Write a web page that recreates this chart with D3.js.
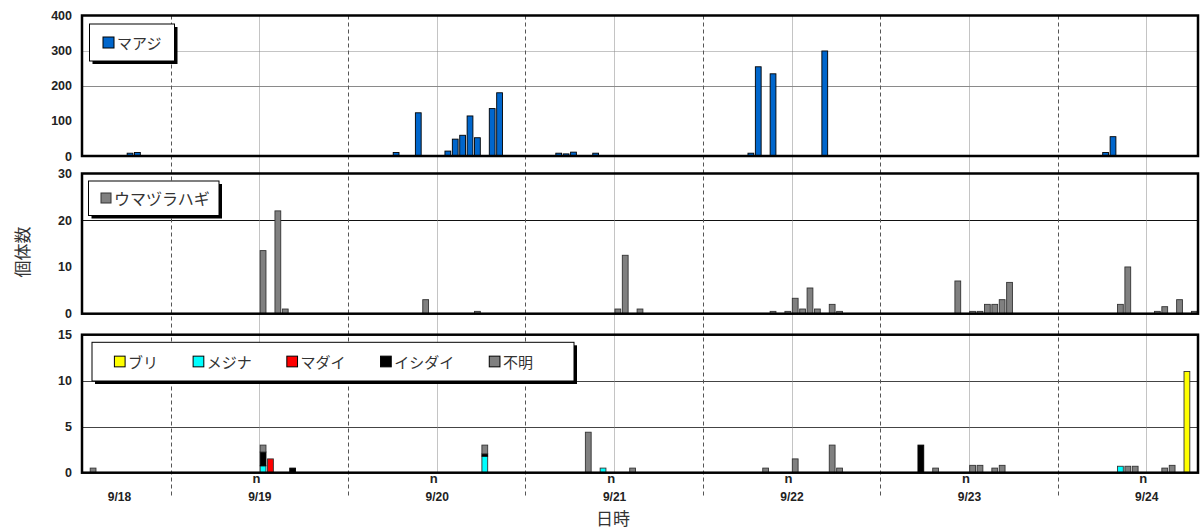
<!DOCTYPE html>
<html><head><meta charset="utf-8">
<script src="https://cdn.jsdelivr.net/npm/d3@7"></script>
<style>body{margin:0;background:#fff}svg{display:block}</style>
</head><body><svg id="c" width="1203" height="529"></svg>
<script>
// ---- data (time "M/D H", value) ----
const majiData = [
  ["9/18 18",8],["9/18 19",10],["9/20 6",10],["9/20 9",123],["9/20 13",14],["9/20 14",48],
  ["9/20 15",59],["9/20 16",114],["9/20 17",52],["9/20 19",135],["9/20 20",180],
  ["9/21 4",8],["9/21 5",6],["9/21 6",11],["9/21 9",8],["9/22 6",8],["9/22 7",254],
  ["9/22 9",234],["9/22 16",299],["9/24 6",10],["9/24 7",55]
];
const umazuraData = [
  ["9/19 12",13.5],["9/19 14",22],["9/19 15",1],["9/20 10",3],["9/20 17",0.5],
  ["9/21 12",1],["9/21 13",12.5],["9/21 15",1],["9/22 9",0.5],["9/22 11",0.5],
  ["9/22 12",3.3],["9/22 13",1],["9/22 14",5.5],["9/22 15",1],["9/22 17",2],["9/22 18",0.5],
  ["9/23 10",7],["9/23 12",0.5],["9/23 13",0.5],["9/23 14",2],["9/23 15",2],["9/23 16",3],
  ["9/23 17",6.7],["9/24 8",2],["9/24 9",10],["9/24 13",0.5],["9/24 14",1.5],
  ["9/24 16",3],["9/24 18",0.5]
];
const buriData = [["9/24 17",11]];
const mejinaData = [["9/19 12",0.75],["9/20 18",1.8],["9/21 10",0.5],["9/24 8",0.7]];
const madaiData = [["9/19 13",1.5]];
const ishidaiData = [["9/19 12",1.5],["9/19 16",0.5],["9/20 18",0.25],["9/23 5",3]];
const fumeiData = [
  ["9/18 13",0.5],["9/19 12",0.75],["9/20 18",0.95],["9/21 8",4.4],["9/21 14",0.5],
  ["9/22 8",0.5],["9/22 12",1.5],["9/22 17",3],["9/22 18",0.5],["9/23 7",0.5],
  ["9/23 12",0.8],["9/23 13",0.8],["9/23 15",0.5],["9/23 16",0.8],
  ["9/24 9",0.7],["9/24 10",0.7],["9/24 14",0.5],["9/24 15",0.8]
];
const seriesNames3 = ["ブリ","メジナ","マダイ","イシダイ","不明"];
const seriesColors3 = ["#FFFF00","#00FFFF","#FF0000","#000000","#808080"];
const panel1Ticks = [0,100,200,300,400];
const panel2Ticks = [0,10,20,30];
const panel3Ticks = [0,5,10,15];
const panel1Grid = [200,300];
const panel2Grid = [20];
const panel3Grid = [5,10];
const dateLabels = ["9/18","9/19","9/20","9/21","9/22","9/23","9/24"];
const dateLabelTimes = ["9/18 17","9/19 12","9/20 12","9/21 12","9/22 12","9/23 12","9/24 12"];
const midnightTimes = ["9/19 0","9/20 0","9/21 0","9/22 0","9/23 0","9/24 0"];
const noonTimes = ["9/19 12","9/20 12","9/21 12","9/22 12","9/23 12","9/24 12"];
const startTime = "9/18 12", endTime = "9/24 19";

// ---- helpers ----
function hrs(s){const [md,hh]=s.split(" ");const [m,d]=md.split("/").map(Number);return (d-18)*24+(+hh)-12;}
const svg = d3.select("#c");
svg.append("rect").attr("width",1203).attr("height",529).attr("fill","#fff");
const L=82,R=1198;
const x = d3.scaleLinear().domain([hrs(startTime),hrs(endTime)]).range([L,R]);
const y1 = d3.scaleLinear().domain([0,400]).range([156,15.5]);
const y2 = d3.scaleLinear().domain([0,30]).range([313.7,173.5]);
const y3 = d3.scaleLinear().domain([0,15]).range([472.7,334.7]);
const bw = x(1)-x(0);
const px = v=>Math.round(v)+0.5;
const tickFont = "'Liberation Sans', Arial, sans-serif";
const jpFont = "'Noto Sans CJK JP', sans-serif";

// gridlines
function grid(y, vals, colors){
  svg.append("g").selectAll("line").data(vals).join("line")
    .attr("x1",L).attr("x2",R).attr("y1",d=>px(y(d))).attr("y2",d=>px(y(d)))
    .attr("stroke",(d,i)=>colors[i]).attr("stroke-width",1);
}
grid(y1,panel1Grid,["#8a8a8a","#c4c4c4"]);
grid(y2,panel2Grid,["#111"]);
grid(y3,panel3Grid,["#444","#444"]);

// vertical time lines
svg.append("g").selectAll("line").data(noonTimes).join("line")
  .attr("x1",d=>px(x(hrs(d)))).attr("x2",d=>px(x(hrs(d))))
  .attr("y1",y1(400)).attr("y2",y3(0))
  .attr("stroke","#888").attr("stroke-dasharray","1,1").attr("stroke-width",1);
svg.append("g").selectAll("line").data(midnightTimes).join("line")
  .attr("x1",d=>px(x(hrs(d)))).attr("x2",d=>px(x(hrs(d))))
  .attr("y1",y1(400)).attr("y2",497)
  .attr("stroke","#555").attr("stroke-dasharray","4,3").attr("stroke-width",1);

// bars panel 1
svg.append("g").selectAll("rect").data(majiData).join("rect")
  .attr("x",d=>x(hrs(d[0]))+0.8).attr("width",bw-1.6)
  .attr("y",d=>y1(d[1])).attr("height",d=>y1(0)-y1(d[1]))
  .attr("fill","#0066CC").attr("stroke","#000").attr("stroke-width",0.9);
// bars panel 2
svg.append("g").selectAll("rect").data(umazuraData).join("rect")
  .attr("x",d=>x(hrs(d[0]))+0.8).attr("width",bw-1.6)
  .attr("y",d=>y2(d[1])).attr("height",d=>y2(0)-y2(d[1]))
  .attr("fill","#808080").attr("stroke","#333").attr("stroke-width",0.9);
// stacked bars panel 3
const keys = seriesNames3;
const srcs = [buriData,mejinaData,madaiData,ishidaiData,fumeiData];
const rows = new Map();
srcs.forEach((arr,i)=>arr.forEach(([t,v])=>{
  const h=hrs(t); if(!rows.has(h)){const o={h};keys.forEach(k=>o[k]=0);rows.set(h,o);} rows.get(h)[keys[i]]+=v;}));
const table = Array.from(rows.values()).sort((a,b)=>a.h-b.h);
const stacked = d3.stack().keys(keys)(table);
svg.append("g").selectAll("g").data(stacked).join("g")
  .attr("fill",(d,i)=>seriesColors3[i]).attr("stroke",(d,i)=>i===3?"#000":"#333").attr("stroke-width",0.9)
  .selectAll("rect").data(d=>d.filter(p=>p[1]-p[0]>0)).join("rect")
  .attr("x",p=>x(p.data.h)+0.8).attr("width",bw-1.6)
  .attr("y",p=>y3(p[1])).attr("height",p=>y3(p[0])-y3(p[1]));

// frames
[[y1,400],[y2,30],[y3,15]].forEach(([y,m])=>{
  svg.append("rect").attr("x",L).attr("y",y(m)).attr("width",R-L).attr("height",y(0)-y(m))
    .attr("fill","none").attr("stroke","#000").attr("stroke-width",2.5);
});

// y axes
function yAxis(y,ticks){
  const g=svg.append("g").attr("transform",`translate(${L},0)`)
    .call(d3.axisLeft(y).tickValues(ticks).tickSize(0).tickPadding(10).tickFormat(d3.format("d")));
  g.select(".domain").remove();
  g.selectAll("text").attr("font-family",tickFont).attr("font-size",12.5).attr("font-weight","bold").attr("fill","#222");
}
yAxis(y1,panel1Ticks); yAxis(y2,panel2Ticks); yAxis(y3,panel3Ticks);

// x labels
svg.append("g").selectAll("text").data(dateLabels).join("text")
  .attr("x",(d,i)=>x(hrs(dateLabelTimes[i]))+0.5).attr("y",498)
  .attr("text-anchor","middle").attr("dominant-baseline","middle")
  .attr("font-family",tickFont).attr("font-size",12).attr("font-weight","bold").attr("fill","#222")
  .text(d=>d);
svg.append("g").selectAll("text").data(noonTimes).join("text")
  .attr("x",d=>x(hrs(d))-3).attr("y",480)
  .attr("text-anchor","middle").attr("dominant-baseline","middle")
  .attr("font-family",tickFont).attr("font-size",13).attr("font-weight","bold").attr("fill","#222")
  .text("n");

// titles
svg.append("text").attr("transform","translate(24,252) rotate(-90)")
  .attr("text-anchor","middle").attr("dominant-baseline","middle")
  .attr("font-family",jpFont).attr("font-size",17).attr("fill","#333").text("個体数");
svg.append("text").attr("x",613).attr("y",520)
  .attr("text-anchor","middle").attr("dominant-baseline","middle")
  .attr("font-family",jpFont).attr("font-size",17).attr("fill","#333").text("日時");

// legends
function legendBox(bx,by,w,h){
  svg.append("rect").attr("x",bx+3).attr("y",by+3).attr("width",w).attr("height",h).attr("fill","#000");
  svg.append("rect").attr("x",bx).attr("y",by).attr("width",w).attr("height",h).attr("fill","#fff").attr("stroke","#000").attr("stroke-width",1);
}
function legendItem(sx,cy,size,color,stroke,label,fs){
  svg.append("rect").attr("x",sx).attr("y",cy-size/2).attr("width",size).attr("height",size)
    .attr("fill",color).attr("stroke",stroke).attr("stroke-width",1);
  return svg.append("text").attr("x",sx+size+3).attr("y",cy).attr("dominant-baseline","central")
    .attr("font-family",jpFont).attr("font-size",fs).attr("fill","#333").text(label);
}
legendBox(89.5,24,85,37);
legendItem(103,42.5,11,"#0066CC","#000","マアジ",15);
legendBox(88.5,181,130.5,34.5);
legendItem(101,198,10,"#808080","#333","ウマヅラハギ",16);
legendBox(92,342.3,482,38.7);
let lx=114.4;
seriesNames3.forEach((n,i)=>{
  const t=legendItem(lx,361.5,10.7,seriesColors3[i],"#000",n,15);
  lx = lx+10.7+3+t.node().getComputedTextLength()+35;
});
</script></body></html>
